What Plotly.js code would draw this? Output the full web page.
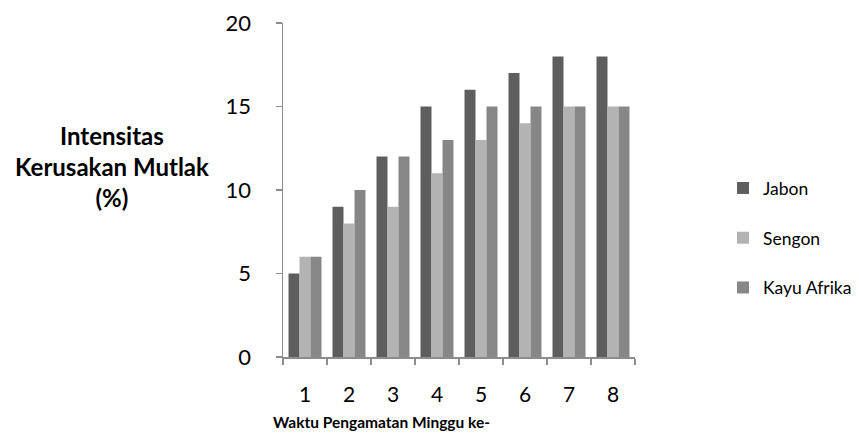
<!DOCTYPE html>
<html><head><meta charset="utf-8">
<script src="https://cdn.plot.ly/plotly-3.0.1.min.js"></script>
<style>body{margin:0;background:#fff}#chart{width:859px;height:433px}</style>
</head><body><div id="chart"></div>
<script>
const weeks = ['1','2','3','4','5','6','7','8'];
const jabon = [5, 9, 12, 15, 16, 17, 18, 18];
const sengon = [6, 8, 9, 11, 13, 14, 15, 15];
const kayuAfrika = [6, 10, 12, 13, 15, 15, 15, 15];
const seriesNames = ['Jabon', 'Sengon', 'Kayu Afrika'];
const colors = ['#5e5e5e', '#b3b3b3', '#878787'];
const yTicks = [0, 5, 10, 15, 20];

const data = [jabon, sengon, kayuAfrika].map((v, i) => ({
  type: 'bar', x: weeks, y: v, name: seriesNames[i], legendgroup: 'g' + i,
  marker: {color: colors[i], line: {width: 0}}
}));

const font = 'Lato, "Open Sans", sans-serif';
const layout = {
  width: 859, height: 433,
  margin: {l: 283, r: 224, t: 23, b: 76, autoexpand: false},
  paper_bgcolor: '#fff', plot_bgcolor: '#fff',
  barmode: 'group', bargap: 0.25, bargroupgap: 0,
  font: {family: font, color: '#000'},
  xaxis: {
    type: 'category', showgrid: false, showline: true, linecolor: '#8c8c8c', linewidth: 1.5,
    ticks: 'outside', tickson: 'boundaries', ticklen: 6, tickcolor: '#8c8c8c', tickwidth: 1.5,
    tickfont: {size: 21, family: font}, ticklabelstandoff: 18, fixedrange: true, automargin: false
  },
  yaxis: {
    range: [0, 20], tickvals: yTicks, showgrid: false, zeroline: false,
    showline: true, linecolor: '#8c8c8c', linewidth: 1.5,
    ticks: 'outside', ticklen: 6, tickcolor: '#8c8c8c', tickwidth: 1.5,
    tickfont: {size: 22, family: font}, ticklabelstandoff: 20, fixedrange: true, automargin: false
  },
  legend: {
    x: 1.25, xanchor: 'left', y: 0.356, yanchor: 'middle',
    font: {size: 17.5, family: font}, tracegroupgap: 24, traceorder: 'grouped',
    bgcolor: 'rgba(0,0,0,0)'
  },
  annotations: [
    {text: '<b>Intensitas<br>Kerusakan Mutlak<br>(%)</b>', xref: 'paper', yref: 'paper',
     x: -0.485, y: 0.569, xanchor: 'center', yanchor: 'middle', showarrow: false,
     font: {size: 24, family: font}, align: 'center'},
    {text: '<b>Waktu Pengamatan Minggu ke-</b>', xref: 'paper', yref: 'paper',
     x: 0.28, y: -0.195, xanchor: 'center', yanchor: 'middle', showarrow: false,
     font: {size: 15.5, family: font}}
  ]
};
Plotly.newPlot('chart', data, layout, {displayModeBar: false, staticPlot: true});
</script></body></html>
